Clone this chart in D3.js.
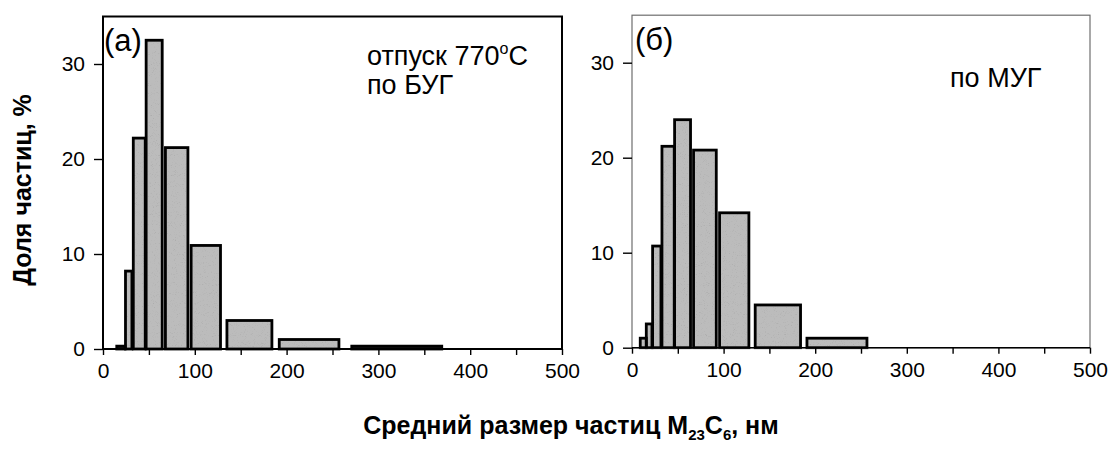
<!DOCTYPE html>
<html>
<head>
<meta charset="utf-8">
<script src="https://cdn.jsdelivr.net/npm/d3@7"></script>
<style>
  body { margin: 0; background: #fff; }
  text { font-family: "Liberation Sans", Arial, sans-serif; fill: #000; }
</style>
</head>
<body>
<svg id="chart" width="1112" height="453"></svg>
<script>
// Particle size bins (nm): lower and upper edge of each bar, share of particles (%)
const binLoA = [15, 24.5, 33, 47, 68, 96, 135, 192, 271];
const binHiA = [24, 31.5, 46, 64.5, 92.5, 128, 184, 257, 369];
const shareA = [0.3, 8.2, 22.2, 32.5, 21.2, 10.9, 3.0, 1.0, 0.3];

const binLoB = [9, 15.6, 22.5, 32.7, 46.5, 67.2, 95.6, 134.5, 191];
const binHiB = [15.6, 21.8, 31.6, 46.1, 63.9, 92, 127.6, 184, 256.5];
const shareB = [1.0, 2.5, 10.7, 21.2, 24.0, 20.8, 14.2, 4.5, 1.0];

const xTickValues = [0, 50, 100, 150, 200, 250, 300, 350, 400, 450, 500];
const xTickLabels = [0, 100, 200, 300, 400, 500];
const yTickLabels = [0, 10, 20, 30];

const svg = d3.select("#chart");

// fine grain for the bar fill
const defs = svg.append("defs");
const grain = defs.append("filter").attr("id", "grain")
  .attr("x", 0).attr("y", 0).attr("width", 1).attr("height", 1);
grain.append("feTurbulence")
  .attr("type", "fractalNoise").attr("baseFrequency", 1.1)
  .attr("numOctaves", 1).attr("seed", 4).attr("result", "n");
grain.append("feColorMatrix").attr("in", "n").attr("type", "matrix")
  .attr("values", "0.3 0.3 0.3 0 0.58  0.3 0.3 0.3 0 0.58  0.3 0.3 0.3 0 0.58  0 0 0 0 1")
  .attr("result", "g");
grain.append("feComposite").attr("in", "g").attr("in2", "SourceGraphic")
  .attr("operator", "in").attr("result", "gm");
grain.append("feBlend").attr("in", "SourceGraphic").attr("in2", "gm").attr("mode", "multiply");

const panels = [
  { lo: binLoA, hi: binHiA, v: shareA, x0: 103, x1: 562, yb: 349,
    frame: "#000", frameW: 2,
    tag: "(a)", tagX: 104, tagY: 51 },
  { lo: binLoB, hi: binHiB, v: shareB, x0: 632, x1: 1090, yb: 347.7,
    frame: "#6e6e6e", frameW: 1.2,
    tag: "(б)", tagX: 635, tagY: 50 }
];

panels.forEach(p => {
  const x = d3.scaleLinear().domain([0, 500]).range([p.x0, p.x1]);
  const y = d3.scaleLinear().domain([0, 35]).range([p.yb, p.yb - 332.5]);
  const g = svg.append("g");
  const bins = p.v.map((v, k) => ({ lo: p.lo[k], hi: p.hi[k], v }));

  // bar fill with grain, then outlines on top
  g.selectAll("rect.fill")
    .data(bins)
    .join("rect")
    .attr("class", "fill")
    .attr("x", d => x(d.lo))
    .attr("width", d => x(d.hi) - x(d.lo))
    .attr("y", d => y(d.v))
    .attr("height", d => y(0) - y(d.v))
    .attr("fill", "#bcbcbc")
    .attr("filter", "url(#grain)");
  g.selectAll("rect.edge")
    .data(bins)
    .join("rect")
    .attr("class", "edge")
    .attr("x", d => x(d.lo))
    .attr("width", d => x(d.hi) - x(d.lo))
    .attr("y", d => y(d.v))
    .attr("height", d => y(0) - y(d.v))
    .attr("fill", "none")
    .attr("stroke", "#000")
    .attr("stroke-width", 2.8);

  // frame
  g.append("rect")
    .attr("x", p.x0).attr("y", y(35))
    .attr("width", p.x1 - p.x0).attr("height", y(0) - y(35))
    .attr("fill", "none")
    .attr("stroke", p.frame)
    .attr("stroke-width", p.frameW);
  g.append("line")
    .attr("x1", p.x0).attr("x2", p.x1)
    .attr("y1", y(0)).attr("y2", y(0))
    .attr("stroke", "#000").attr("stroke-width", 1.6);

  // x axis
  const xa = g.append("g")
    .attr("transform", `translate(0,${y(0)})`)
    .call(d3.axisBottom(x)
      .tickValues(xTickValues)
      .tickSize(6).tickSizeOuter(0).tickPadding(8)
      .tickFormat(d => xTickLabels.includes(d) ? d : ""));
  xa.select(".domain").remove();
  xa.selectAll("line").attr("stroke", "#000").attr("stroke-width", 1.4);
  xa.selectAll("text").style("font-size", "21px")
    .style("font-family", "'Liberation Sans', Arial, sans-serif");

  // y axis
  const ya = g.append("g")
    .attr("transform", `translate(${p.x0},0)`)
    .call(d3.axisLeft(y)
      .tickValues(yTickLabels)
      .tickSize(9).tickSizeOuter(0).tickPadding(9));
  ya.select(".domain").remove();
  ya.selectAll("line").attr("stroke", "#000").attr("stroke-width", 1.4);
  ya.selectAll("text").style("font-size", "21px")
    .style("font-family", "'Liberation Sans', Arial, sans-serif");

  // panel tag
  g.append("text")
    .attr("x", p.tagX).attr("y", p.tagY)
    .style("font-size", "31px")
    .text(p.tag);
});

// annotations
const noteA = svg.append("text")
  .attr("x", 367).attr("y", 65)
  .style("font-size", "27px");
noteA.append("tspan").text("отпуск 770");
noteA.append("tspan").attr("dy", -11).style("font-size", "16px").text("o");
noteA.append("tspan").attr("dy", 11).text("C");
svg.append("text")
  .attr("x", 367).attr("y", 94)
  .style("font-size", "27px")
  .text("по БУГ");

svg.append("text")
  .attr("x", 950).attr("y", 87)
  .style("font-size", "27px")
  .text("по МУГ");

// axis titles
svg.append("text")
  .attr("transform", "translate(31,190) rotate(-90)")
  .attr("text-anchor", "middle")
  .style("font-size", "25px")
  .style("font-weight", "bold")
  .text("Доля частиц, %");

const xt = svg.append("text")
  .attr("x", 571).attr("y", 434)
  .attr("text-anchor", "middle")
  .style("font-size", "25px")
  .style("font-weight", "bold");
xt.append("tspan").text("Средний размер частиц M");
xt.append("tspan").attr("dy", 6).style("font-size", "15px").text("23");
xt.append("tspan").attr("dy", -6).text("C");
xt.append("tspan").attr("dy", 6).style("font-size", "15px").text("6");
xt.append("tspan").attr("dy", -6).text(", нм");
</script>
</body>
</html>
